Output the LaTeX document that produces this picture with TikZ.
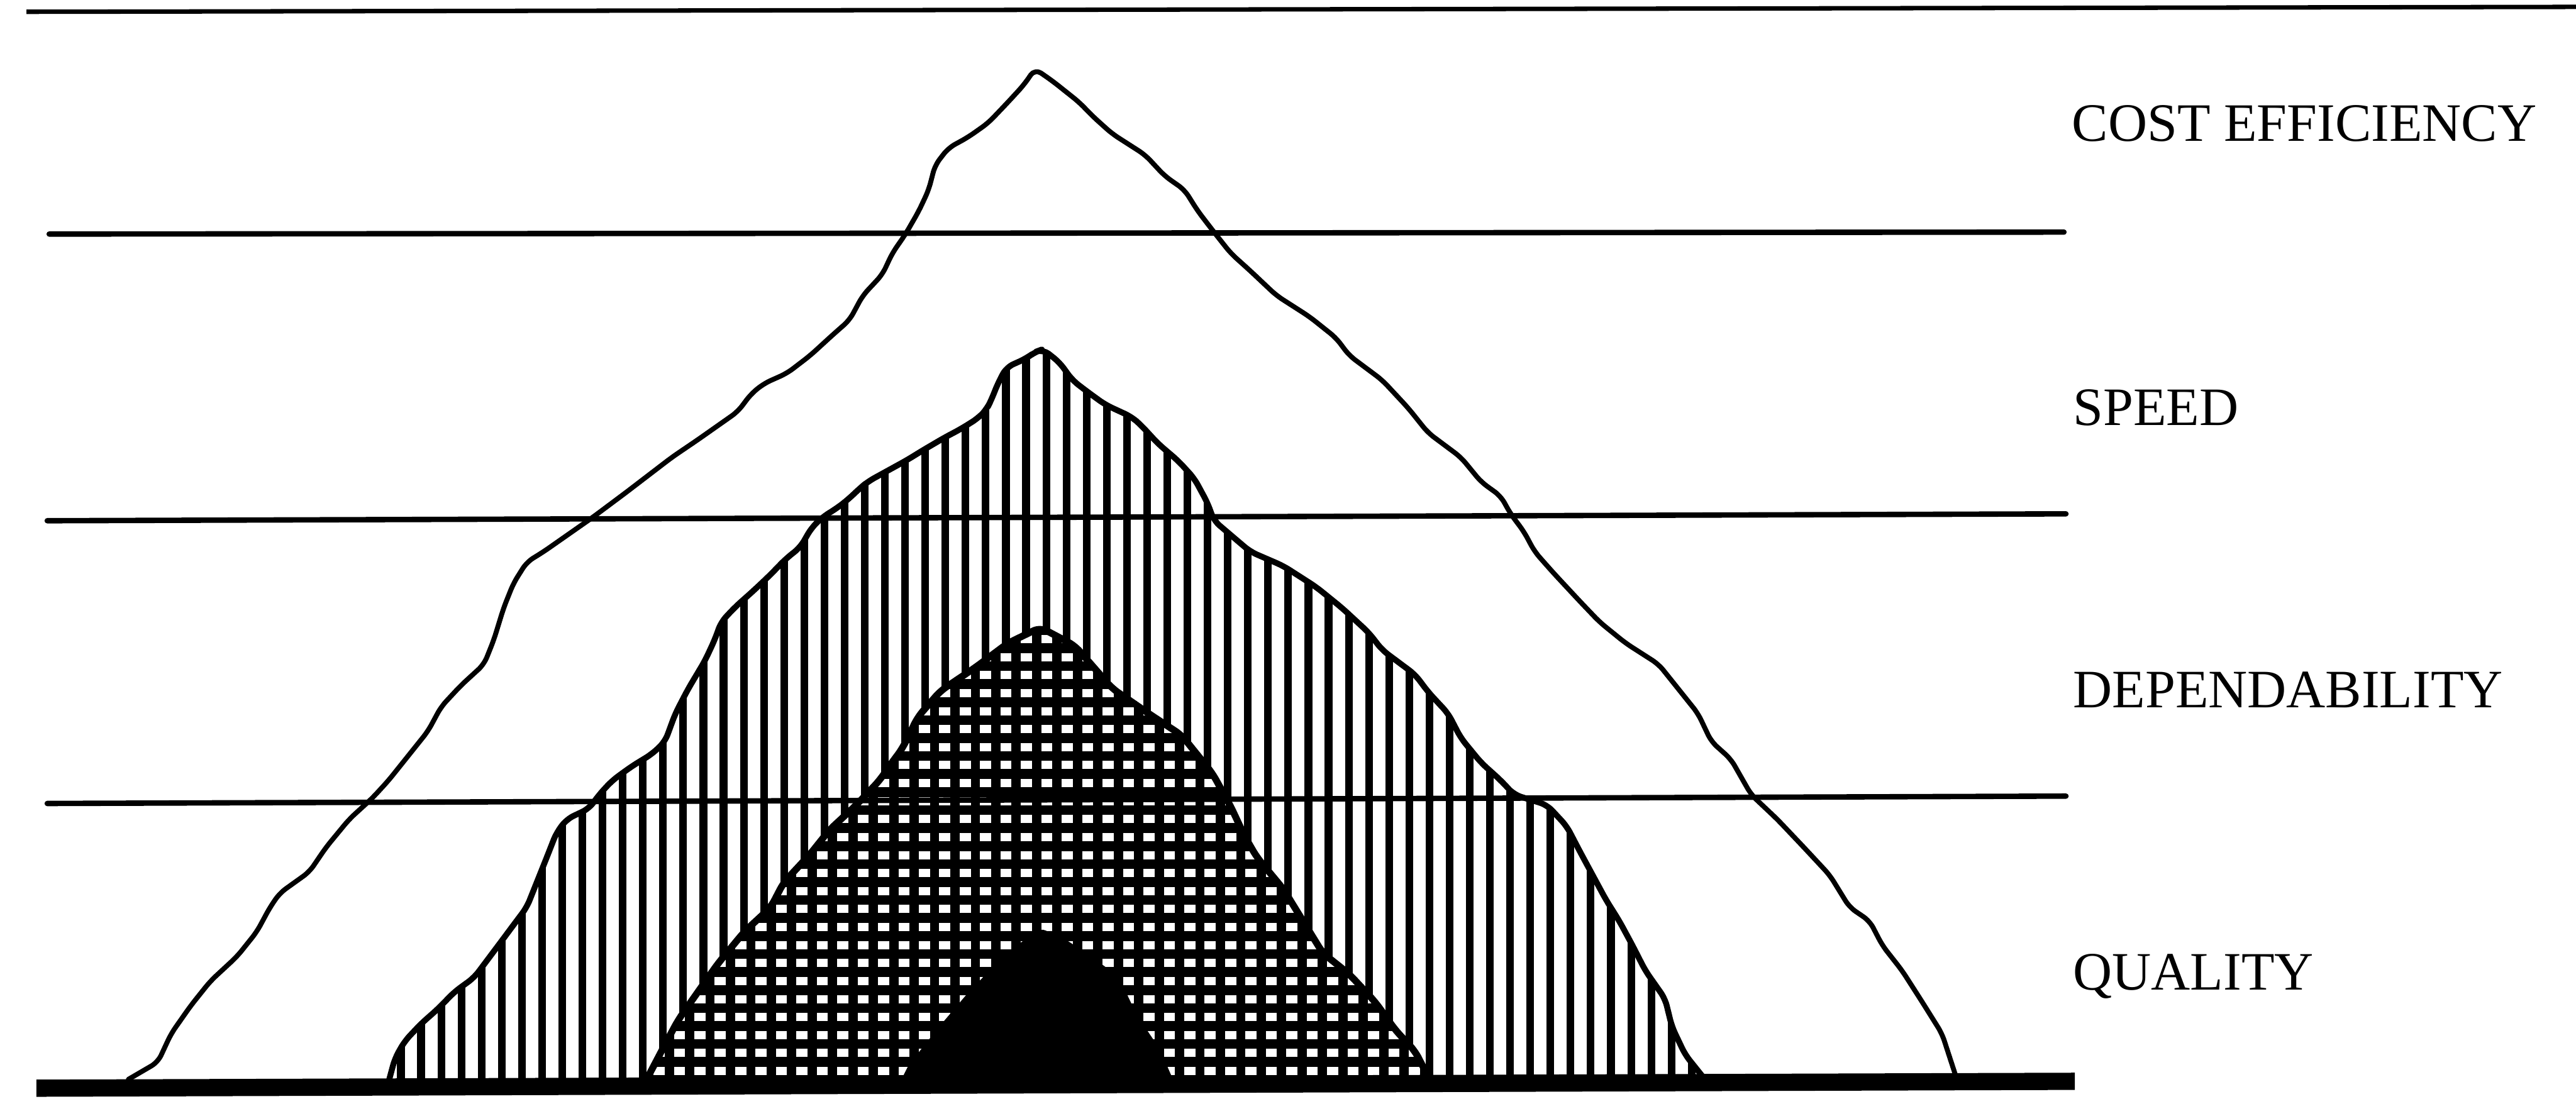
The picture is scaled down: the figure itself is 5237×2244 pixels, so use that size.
\documentclass[tikz,border=0pt]{standalone}
\usepackage{fontspec}
\setmainfont{Liberation Serif}
\begin{document}
\begin{tikzpicture}[x=0.1mm,y=-0.1mm,line join=round,line cap=round,
  outline/.style={draw=black,line width=1mm,rounded corners=1.5mm},
  rule/.style={draw=black,line width=1.1mm},
  hatchline/.style={draw=black,line width=1.55mm,line cap=butt},
  gridv/.style={draw=black,line width=1.9mm,line cap=butt},
  gridh/.style={draw=black,line width=2.0mm,line cap=butt},
  lbl/.style={font=\fontsize{31.3}{31.3}\selectfont,anchor=base west,inner sep=0pt}]
\useasboundingbox (0,0) rectangle (5237,2244);
\fill[white] (0,0) rectangle (5237,2244);

\def\midshape{(790,2200) -- (803,2152) -- (823,2117) -- (857,2081) -- (890,2052) -- (924,2017) -- (964,1988) -- (991,1952) -- (1018,1916) -- (1044,1881) -- (1071,1845) -- (1091,1795) -- (1111,1745) -- (1131,1694) -- (1152,1666) -- (1198,1644) -- (1218,1616) -- (1245,1587) -- (1285,1558) -- (1326,1533) -- (1352,1508) -- (1373,1451) -- (1399,1401) -- (1433,1344) -- (1453,1301) -- (1466,1265) -- (1495,1234) -- (1530,1203) -- (1564,1171) -- (1598,1136) -- (1627,1113) -- (1650,1073) -- (1673,1051) -- (1702,1033) -- (1725,1015) -- (1748,993) -- (1765,979) -- (1805,957) -- (1845,935) -- (1874,917) -- (1920,890) -- (1954,872) -- (1989,850) -- (2006,832) -- (2015,814) -- (2029,779) -- (2046,747) -- (2086,729) -- (2104,716) -- (2120,710) -- (2154,737) -- (2180,773) -- (2207,794) -- (2247,823) -- (2301,848) -- (2321,866) -- (2354,902) -- (2395,937) -- (2428,973) -- (2455,1023) -- (2468,1059) -- (2502,1088) -- (2542,1122) -- (2609,1151) -- (2676,1194) -- (2729,1237) -- (2783,1287) -- (2810,1322) -- (2877,1372) -- (2904,1408) -- (2944,1451) -- (2970,1501) -- (3011,1551) -- (3051,1587) -- (3078,1616) -- (3145,1637) -- (3185,1680) -- (3211,1730) -- (3238,1780) -- (3265,1830) -- (3292,1873) -- (3319,1923) -- (3345,1974) -- (3385,2031) -- (3399,2088) -- (3426,2145) -- (3466,2195)}

\def\gridshape{(1312,2200) -- (1352,2124) -- (1379,2074) -- (1419,2017) -- (1460,1959) -- (1513,1895) -- (1567,1845) -- (1593,1795) -- (1647,1737) -- (1687,1687) -- (1741,1637) -- (1789,1586) -- (1810,1555) -- (1834,1523) -- (1866,1458) -- (1912,1405) -- (1982,1358) -- (2049,1308) -- (2115,1276) -- (2185,1313) -- (2261,1400) -- (2338,1453) -- (2402,1495) -- (2465,1573) -- (2502,1640) -- (2530,1700) -- (2555,1743) -- (2609,1808) -- (2649,1873) -- (2689,1938) -- (2743,1981) -- (2796,2038) -- (2837,2095) -- (2877,2138) -- (2906,2195)}

% middle (vertical hatching) shape
\begin{scope}
  \clip[rounded corners=1.5mm] \midshape -- cycle;
  \foreach \x in {733,774,...,3500} \path[hatchline] (\x,650) -- (\x,2260);
\end{scope}
\path[outline,line width=1.2mm] \midshape;

% grid shape
\begin{scope}
  \clip[rounded corners=1.5mm] \gridshape -- cycle;
  \fill[white] (1250,1200) rectangle (3000,2260);
  \foreach \n in {0,...,42} \path[gridv] ({1277.5+41.5*\n},1200) -- ({1277.5+41.5*\n},2260);
  \foreach \n in {0,...,28} \path[gridh] (1250,{1281.4+36.6*\n}) -- (3000,{1281.4+36.6*\n});
\end{scope}
\path[outline,line width=1.4mm] \gridshape;

% solid black core
\fill[black,rounded corners=1mm] (1828,2205) -- (1847,2166) -- (1911,2086) -- (1968,2019) -- (2045,1939) -- (2115,1888) -- (2159,1906) -- (2210,1939) -- (2274,1986) -- (2312,2066) -- (2357,2132) -- (2389,2205) -- cycle;

% horizontal rules
\coordinate (l1a) at (100,476);  \coordinate (l1b) at (4196,472);
\coordinate (l2a) at (96,1059);  \coordinate (l2b) at (4200,1045);
\coordinate (l3a) at (96,1634);  \coordinate (l3b) at (4200,1619);
\draw[rule] (l1a) -- (l1b);
\draw[rule] (l2a) -- (l2b);
\draw[rule] (l3a) -- (l3b);

% outer outline (cost efficiency)
\draw[outline] (261,2195) -- (321,2160) -- (348,2102) -- (388,2045) -- (428,1995) -- (482,1945) -- (522,1895) -- (549,1845) -- (569,1816) -- (629,1773) -- (663,1723) -- (710,1666) -- (757,1623) -- (790,1587) -- (830,1537) -- (870,1487) -- (897,1437) -- (937,1394) -- (984,1351) -- (1004,1301) -- (1024,1236) -- (1044,1186) -- (1071,1143) -- (1105,1122) -- (1205,1052) -- (1272,1002) -- (1366,930) -- (1419,894) -- (1500,837) -- (1527,801) -- (1553,780) -- (1600,759) -- (1647,723) -- (1694,680) -- (1727,651) -- (1754,601) -- (1794,558) -- (1814,515) -- (1841,476) -- (1868,429) -- (1888,386) -- (1901,336) -- (1928,301) -- (1968,279) -- (2009,250) -- (2049,208) -- (2082,172) -- (2104,140) -- (2140,165) -- (2194,208) -- (2221,236) -- (2261,272) -- (2328,315) -- (2368,358) -- (2408,386) -- (2435,429) -- (2468,472) -- (2502,515) -- (2542,551) -- (2595,601) -- (2662,644) -- (2716,687) -- (2743,723) -- (2810,773) -- (2863,830) -- (2903,880) -- (2970,930) -- (3011,980) -- (3051,1009) -- (3071,1045) -- (3098,1081) -- (3120,1122) -- (3158,1165) -- (3211,1222) -- (3252,1265) -- (3305,1308) -- (3372,1351) -- (3412,1401) -- (3452,1451) -- (3479,1508) -- (3519,1544) -- (3560,1616) -- (3613,1666) -- (3667,1723) -- (3720,1780) -- (3760,1845) -- (3801,1873) -- (3827,1923) -- (3867,1974) -- (3908,2038) -- (3948,2102) -- (3975,2185);

% base line and top line
\coordinate (ba) at (74,2213); \coordinate (bb) at (4218,2199);
\draw[line width=3.5mm,line cap=butt] (ba) -- (bb);
\coordinate (ta) at (54,24); \coordinate (tb) at (5237,14);
\draw[line width=0.9mm,line cap=butt] (ta) -- (tb);

% labels
\node[lbl] (cost) at (4212,287) {COST EFFICIENCY};
\node[lbl] (speed) at (4214,865) {SPEED};
\node[lbl] (dep) at (4214,1439) {DEPENDABILITY};
\node[lbl] (qual) at (4214,2013) {QUALITY};
\end{tikzpicture}
\end{document}
